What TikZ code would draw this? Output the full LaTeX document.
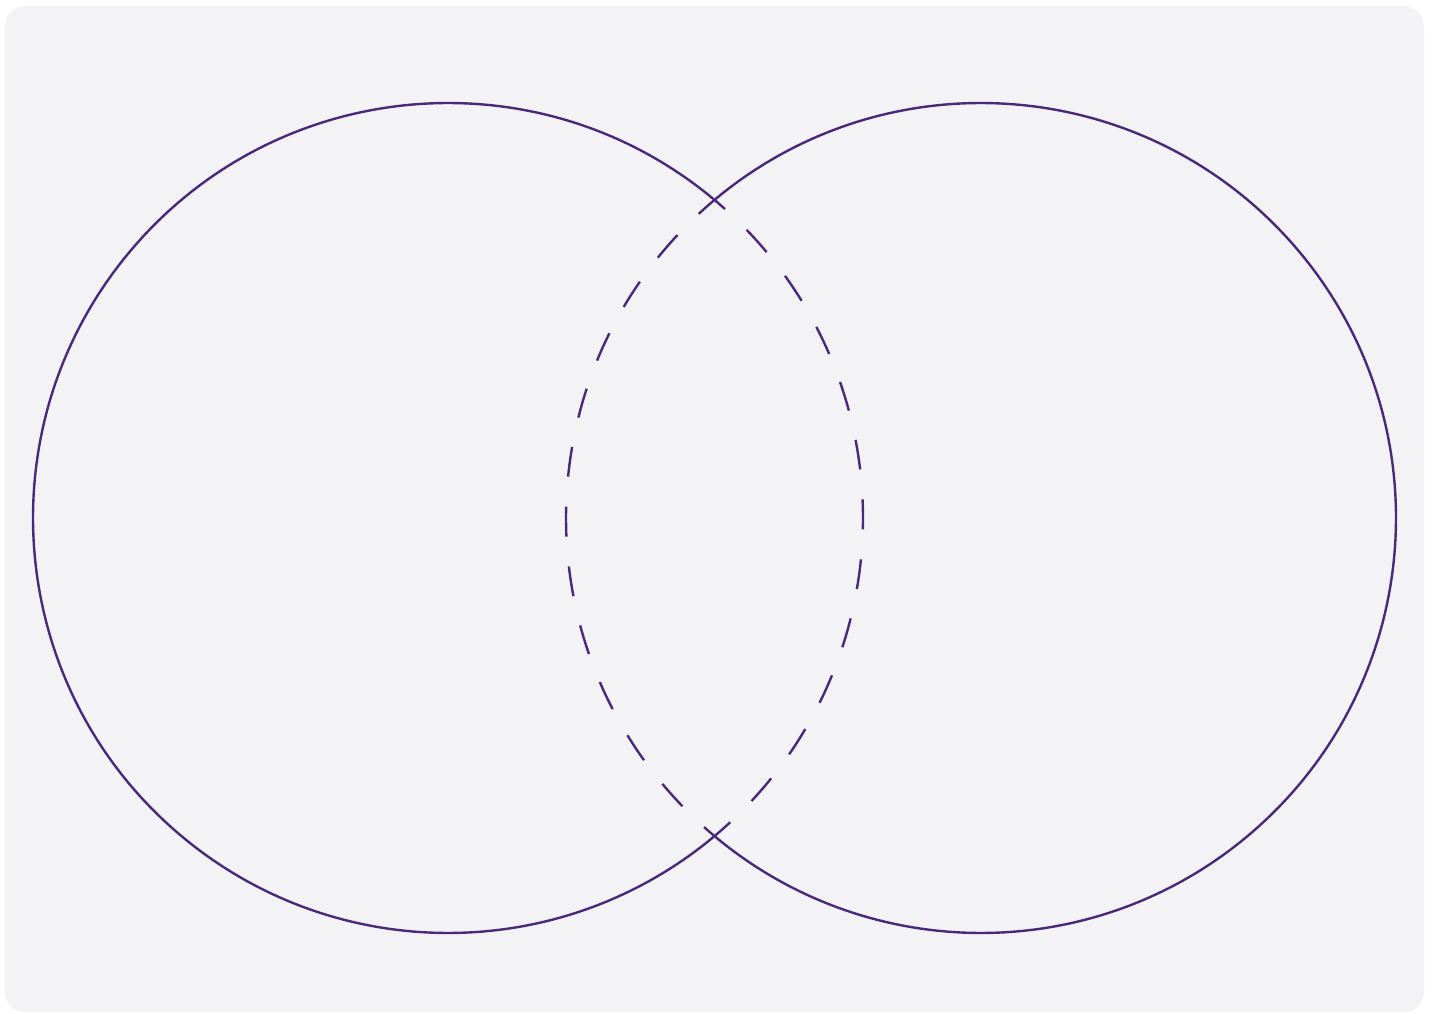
\documentclass[tikz,border=0pt]{standalone}
\usetikzlibrary{arrows.meta}

\definecolor{ringpurple}{HTML}{4A2A78}
\definecolor{panelgray}{HTML}{F3F3F6}

\begin{document}
\begin{tikzpicture}[x=0.5pt, y=-0.5pt]
            \coordinate (L) at (448,518);
            \coordinate (R) at (981,518);

            \useasboundingbox (0,0) rectangle (1436,1013);
            \fill[panelgray, rounded corners=10pt] (5,6) rectangle (1424,1012);

            % outer arcs
            \draw[ringpurple, line width=1.2pt]
                (L) ++(-50.2:415) arc[start angle=-50.2, end angle=-309.8, radius=415];
            \draw[ringpurple, line width=1.2pt]
                (R) ++(-129.8:415) arc[start angle=-129.8, end angle=129.8, radius=415];

            % inner arcs, dashed
            \draw[ringpurple, line width=1.2pt, dash pattern=on 15pt off 15pt, dash phase=7.5pt]
                (L) ++(-50.2:415) arc[start angle=-50.2, end angle=50.2, radius=415];
            \draw[ringpurple, line width=1.2pt, dash pattern=on 15pt off 15pt, dash phase=7.5pt]
                (R) ++(129.8:415) arc[start angle=129.8, end angle=230.2, radius=415];
        \end{tikzpicture}
\end{document}
